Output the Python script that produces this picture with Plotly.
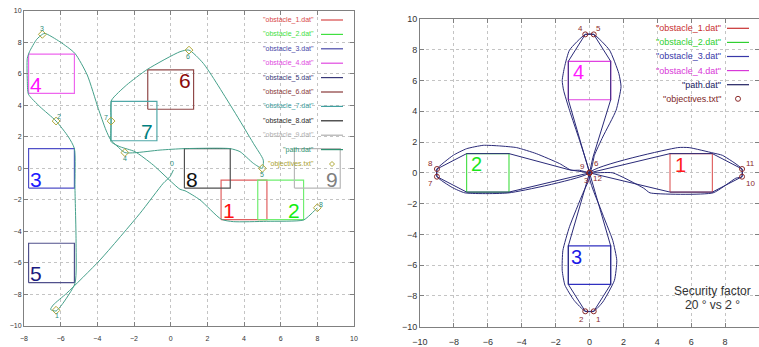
import plotly.graph_objects as go

W, H = 759, 347
FONT = "Liberation Sans, Arial, sans-serif"

# ---------------- left chart data ----------------
L_obst_names = ['"obstacle_1.dat"', '"obstacle_2.dat"', '"obstacle_3.dat"', '"obstacle_4.dat"',
                '"obstacle_5.dat"', '"obstacle_6.dat"', '"obstacle_7.dat"', '"obstacle_8.dat"',
                '"obstacle_9.dat"']
L_obst_ids = ["1", "2", "3", "4", "5", "6", "7", "8", "9"]
L_obst_x0 = [2.75, 4.75, -7.75, -7.75, -7.75, -1.25, -3.25, 0.75, 6.75]
L_obst_x1 = [5.25, 7.25, -5.25, -5.25, -5.25, 1.25, -0.75, 3.25, 9.25]
L_obst_y0 = [-3.25, -3.25, -1.25, 4.75, -7.25, 3.75, 1.75, -1.25, -1.25]
L_obst_y1 = [-0.75, -0.75, 1.25, 7.25, -4.75, 6.25, 4.25, 1.25, 1.25]
L_label_x = [3.2, 6.73, -7.36, -7.35, -7.35, 0.8, -1.31, 1.15, 8.78]
L_label_y = [-2.68, -2.68, -0.7, 5.29, -6.7, 5.6, 2.33, -0.7, -0.7]

L_path_x = [0.15, -0.03, -0.4, -1.67, -3.85, -5.67, -6.4, -6.55, -6.25, -5.94, -5.22,
            -5.16, -5.22, -5.25, -5.58, -6.25, -7.13, -7.76, -7.82, -7.82, -7.7, -7.31,
            -7.0, -6.85, -6.04, -5.22, -4.55, -3.95, -3.53, -3.27, -2.93, -2.5, -1.95,
            -0.58, 0.75, 3.25, 3.78, 4.51, 5.0, 5.05, 4.51, 3.42, 1.78, 1.0, 0.51, -1.27,
            -2.4, -3.22, -3.27, -3.25, -3.27, -3.25, -2.76, -1.95, -0.95, 0.51, 0.78, 1.6,
            2.76, 3.42, 5.24, 7.24, 7.6, 8.0]
L_path_y = [-0.1, -0.52, -0.94, -2.85, -5.81, -7.92, -8.66, -8.95, -9.05, -8.66, -7.29,
            -4.75, -1.27, 1.25, 2.0, 3.0, 3.91, 4.71, 5.6, 6.98, 7.4, 8.18,
            8.5, 8.56, 8.03, 7.29, 5.92, 3.8, 2.43, 1.8, 1.42, 1.0, 0.99,
            1.16, 1.25, 1.25, 1.06, 0.32, 0.0, 0.53, 1.59, 3.7, 6.66, 7.5, 7.4, 6.28,
            5.29, 4.33, 3.7, 3.0, 2.22, 1.69, 1.37, 1.06, 0.21, -1.33, -1.42, -2.0,
            -3.23, -3.38, -3.36, -3.28, -2.96, -2.5]

L_obj_x = [-6.25, -6.25, -7.0, -2.5, 5.0, 1.0, -3.25, 8.0]
L_obj_y = [-9.0, 3.0, 8.5, 1.0, 0.0, 7.5, 3.0, -2.5]
L_obj_labels = ["1", "2", "3", "4", "5", "6", "7", "8"]
L_start_label = "0"

# ---------------- right chart data ----------------
R_obst_names = ['"obstacle_1.dat"', '"obstacle_2.dat"', '"obstacle_3.dat"', '"obstacle_4.dat"']
R_obst_ids = ["1", "2", "3", "4"]
R_obst_x0 = [4.75, -7.25, -1.25, -1.25]
R_obst_x1 = [7.25, -4.75, 1.25, 1.25]
R_obst_y0 = [-1.25, -1.25, -7.25, 4.75]
R_obst_y1 = [1.25, 1.25, -4.75, 7.25]
R_label_x = [5.35, -6.67, -0.78, -0.67]
R_label_y = [0.51, 0.55, -5.45, 6.58]

# path with 2 degree security factor (tight)
R_path_tight_x = [0, 1.25, 1.25, 0.25, -0.25, -1.25, -1.25, 0, -1.25, -1.25, -0.25, 0.25,
                  1.25, 1.25, 0.2, 0, -4.75, -7.25, -9, -9, -7.25, -4.75, -1.2, 0,
                  4.75, 7.25, 9, 9, 7.25, 4.75, 0]
R_path_tight_y = [0, -4.75, -7.25, -9, -9, -7.25, -4.75, 0, 4.75, 7.25, 9, 9,
                  7.25, 4.75, 1.0, 0, -1.25, -1.25, -0.25, 0.25, 1.25, 1.25, 0.2, 0,
                  -1.25, -1.25, -0.25, 0.25, 1.25, 1.25, 0]
# path with 20 degree security factor (wide)
R_path_wide_x = [0, 0.69, 1.37, 1.61, 1.47, 0.78, 0.25, -0.25, -0.9, -1.45, -1.61, -1.57,
                 -1.18, -0.39, -0.04, 0, -0.59, -1.18, -1.53, -1.61, -1.47, -1.18, -0.25,
                 0.25, 1.18, 1.73, 1.86, 1.57, 0.78, 0.29, 0, -4.75, -7.35, -8.1, -9, -9,
                 -8.04, -7.25, -6.27, -5.3, -4.3, -3.14, -1.76, -1.08, -0.6, 0, 1.37, 3.2,
                 3.57, 7.29, 8.63, 9, 9, 7.84, 7.29, 5.88, 5.2, 0]
R_path_wide_y = [0, -2.44, -4.39, -5.69, -6.99, -8.4, -9, -9, -8.3, -7.3, -6.34, -5.04,
                 -3.5, -1.33, -0.46, 0, 2.12, 4.07, 5.37, 6.0, 6.9, 7.98, 9,
                 9, 7.98, 6.46, 5.6, 4.07, 2.33, 1.14, 0, -1.3, -1.3, -0.95, -0.25, 0.25,
                 1.14, 1.57, 1.79, 1.75, 1.64, 1.25, 0.6, 0.17, 0.17, 0, 0.0, -1.0,
                 -1.3, -1.3, -0.35, -0.25, 0.25, 1.14, 1.29, 1.64, 1.64, 0]

R_obj_x = [0.25, -0.25, 0, -0.25, 0.25, 0, -9, -9, 0, 9, 9, 0]
R_obj_y = [-9, -9, 0, 9, 9, 0, -0.25, 0.25, 0, -0.25, 0.25, 0]
R_obj_labels = ["1", "2", "3", "4", "5", "6", "7", "8", "9", "10", "11", "12"]

R_note = ["Security factor", "20 \u00b0 vs 2 \u00b0"]

# ---------------- styles ----------------
L_line_colors = ["#e06060", "#70ee70", "#5050c8", "#ee66ee", "#50508c", "#904848",
                 "#50a8a8", "#505050", "#b8b8b8"]
L_text_colors = ["#ff1010", "#10ee10", "#1a1aff", "#ff10ff", "#1a1a80", "#8b0a0a",
                 "#008080", "#101010", "#808080"]
L_leg_colors = ["#d84848", "#40e040", "#4848a8", "#e048e0", "#383878", "#883838",
                "#40a0a0", "#282828", "#b0b0b0"]
L_path_color = "#45a08a"
L_obj_color = "#b0a838"
L_objlab_dx = [1, 3, 0, 0, 0, -1, -5, 4]
L_objlab_dy = [-5, 5, 6, -6, -6, -6, 4, 3]

R_line_colors = ["#e06868", "#50e050", "#3030c0", "#e040e0"]
R_text_colors = ["#ff1a1a", "#1ae61a", "#1a1ae6", "#ff1aff"]
R_leg_colors = ["#c83030", "#30d030", "#3838a8", "#d838d8"]
R_path_color = "#2a2a78"
R_obj_color = "#8b2a2a"
R_objlab_dx = [5, -4, -3, -5, 5, 7, -6, -6, -7, 8, 8, 8]
R_objlab_dy = [-8, -8, -8, 6, 6, 9, -7, 6, 6, -7, 6, -6]

fig = go.Figure()


def rect(x0, x1, y0, y1):
    return [x0, x1, x1, x0, x0], [y0, y0, y1, y1, y0]


annotations = []
shapes = []

# ---- left chart traces ----
for i in range(len(L_obst_ids)):
    rx, ry = rect(L_obst_x0[i], L_obst_x1[i], L_obst_y0[i], L_obst_y1[i])
    fig.add_trace(go.Scatter(x=rx, y=ry, mode="lines", xaxis="x", yaxis="y",
                             line=dict(color=L_line_colors[i], width=1.2),
                             name=L_obst_names[i], showlegend=False, hoverinfo="skip"))
    annotations.append(dict(x=L_label_x[i], y=L_label_y[i], xref="x", yref="y",
                            text=L_obst_ids[i], showarrow=False,
                            xanchor="center", yanchor="middle",
                            font=dict(size=21, color=L_text_colors[i], family=FONT)))

fig.add_trace(go.Scatter(x=L_path_x, y=L_path_y, mode="lines", xaxis="x", yaxis="y",
                         line=dict(color=L_path_color, width=1, shape="spline", smoothing=0.6),
                         showlegend=False, hoverinfo="skip"))
fig.add_trace(go.Scatter(x=L_obj_x, y=L_obj_y, mode="markers", xaxis="x", yaxis="y",
                         marker=dict(symbol="diamond-open", size=6, color=L_obj_color,
                                     line=dict(width=1, color=L_obj_color)),
                         showlegend=False, hoverinfo="skip"))
for i, t in enumerate(L_obj_labels):
    annotations.append(dict(x=L_obj_x[i], y=L_obj_y[i], xref="x", yref="y", text=t,
                            showarrow=False, xshift=L_objlab_dx[i], yshift=L_objlab_dy[i],
                            xanchor="center", yanchor="middle",
                            font=dict(size=7, color="#2e8b7a", family=FONT)))
annotations.append(dict(x=L_path_x[0], y=L_path_y[0], xref="x", yref="y", text=L_start_label,
                        showarrow=False, xshift=-1, yshift=6, xanchor="center", yanchor="middle",
                        font=dict(size=7, color="#2e8b7a", family=FONT)))

# ---- right chart traces ----
for i in range(len(R_obst_ids)):
    rx, ry = rect(R_obst_x0[i], R_obst_x1[i], R_obst_y0[i], R_obst_y1[i])
    fig.add_trace(go.Scatter(x=rx, y=ry, mode="lines", xaxis="x2", yaxis="y2",
                             line=dict(color=R_line_colors[i], width=1.2),
                             name=R_obst_names[i], showlegend=False, hoverinfo="skip"))
    annotations.append(dict(x=R_label_x[i], y=R_label_y[i], xref="x2", yref="y2",
                            text=R_obst_ids[i], showarrow=False,
                            xanchor="center", yanchor="middle",
                            font=dict(size=20, color=R_text_colors[i], family=FONT)))

fig.add_trace(go.Scatter(x=R_path_tight_x, y=R_path_tight_y, mode="lines", xaxis="x2", yaxis="y2",
                         line=dict(color=R_path_color, width=1),
                         showlegend=False, hoverinfo="skip"))
fig.add_trace(go.Scatter(x=R_path_wide_x, y=R_path_wide_y, mode="lines", xaxis="x2", yaxis="y2",
                         line=dict(color=R_path_color, width=1, shape="spline", smoothing=0.5),
                         showlegend=False, hoverinfo="skip"))
fig.add_trace(go.Scatter(x=R_obj_x, y=R_obj_y, mode="markers", xaxis="x2", yaxis="y2",
                         marker=dict(symbol="circle-open", size=5, color=R_obj_color,
                                     line=dict(width=1, color=R_obj_color)),
                         showlegend=False, hoverinfo="skip"))
for i, t in enumerate(R_obj_labels):
    annotations.append(dict(x=R_obj_x[i], y=R_obj_y[i], xref="x2", yref="y2", text=t,
                            showarrow=False, xshift=R_objlab_dx[i], yshift=R_objlab_dy[i],
                            xanchor="center", yanchor="middle",
                            font=dict(size=8, color=R_obj_color, family=FONT)))

annotations.append(dict(x=712 / W, y=1 - 291 / H, xref="paper", yref="paper", text=R_note[0],
                        showarrow=False, xanchor="center", yanchor="middle",
                        font=dict(size=12, color="#333333", family=FONT)))
annotations.append(dict(x=712 / W, y=1 - 305 / H, xref="paper", yref="paper", text=R_note[1],
                        showarrow=False, xanchor="center", yanchor="middle",
                        font=dict(size=12, color="#333333", family=FONT)))


# ---- manual gnuplot-style legends ----
def legend(names, colors, text_right, line_x0, line_x1, y_first, step, fsize,
           marker_kind, marker_color):
    for k, (nm, col) in enumerate(zip(names, colors)):
        py = y_first + step * k
        annotations.append(dict(x=text_right / W, y=1 - py / H, xref="paper", yref="paper",
                                text=nm, showarrow=False, xanchor="right", yanchor="middle",
                                font=dict(size=fsize, color=col, family=FONT)))
        if k < len(names) - 1:
            shapes.append(dict(type="line", xref="paper", yref="paper",
                               x0=line_x0 / W, x1=line_x1 / W, y0=1 - py / H, y1=1 - py / H,
                               line=dict(color=col, width=1.2)))
        else:
            cx = (line_x0 + line_x1) / 2
            if marker_kind == "diamond":
                path = "M {a},{b} L {c},{d} L {e},{f} L {g},{h} Z".format(
                    a=(cx - 2.5) / W, b=1 - py / H, c=cx / W, d=1 - (py - 2.5) / H,
                    e=(cx + 2.5) / W, f=1 - py / H, g=cx / W, h=1 - (py + 2.5) / H)
                shapes.append(dict(type="path", xref="paper", yref="paper", path=path,
                                   line=dict(color=marker_color, width=1)))
            else:
                shapes.append(dict(type="circle", xref="paper", yref="paper",
                                   x0=(cx - 2.5) / W, x1=(cx + 2.5) / W,
                                   y0=1 - (py + 2.5) / H, y1=1 - (py - 2.5) / H,
                                   line=dict(color=marker_color, width=1)))


legend(L_obst_names + ['"path.dat"', '"objectives.txt"'],
       L_leg_colors + ["#2e9070", "#a8a030"], 316, 321, 343, 20.0, 14.4, 7,
       "diamond", L_obj_color)
legend(R_obst_names + ['"path.dat"', '"objectives.txt"'],
       R_leg_colors + ["#202060", "#802828"], 723, 727, 749, 28.3, 14.1, 9,
       "circle", R_obj_color)

axis_common = dict(showgrid=True, gridcolor="#c4c4c4", griddash="dot", gridwidth=1,
                   showline=True, linecolor="#808080", linewidth=1, mirror="allticks",
                   ticks="inside", ticklen=4, tickcolor="#808080", zeroline=False,
                   dtick=2, tick0=0, fixedrange=True)

fig.update_layout(
    width=W, height=H, margin=dict(l=0, r=0, t=0, b=0),
    paper_bgcolor="white", plot_bgcolor="white", template="none", showlegend=False,
    font=dict(family=FONT),
    xaxis=dict(domain=[24 / W, 354 / W], range=[-8, 10], anchor="y",
               tickfont=dict(size=7, color="#333333"), ticklabelstandoff=6, **axis_common),
    yaxis=dict(domain=[1 - 326 / H, 1 - 10.7 / H], range=[-10, 10], anchor="x",
               tickfont=dict(size=7, color="#333333"), **axis_common),
    xaxis2=dict(domain=[420 / W, 1.0], range=[-10, 10], anchor="y2",
                tickfont=dict(size=9, color="#333333"), ticklabelstandoff=6, **axis_common),
    yaxis2=dict(domain=[1 - 326.7 / H, 1 - 19 / H], range=[-10, 10], anchor="x2",
                tickfont=dict(size=9, color="#333333"), **axis_common),
    annotations=annotations, shapes=shapes,
)

fig.write_html("out.html", config={"displayModeBar": False},
               post_script="document.body.style.margin='0px';document.body.style.overflow='hidden';")
